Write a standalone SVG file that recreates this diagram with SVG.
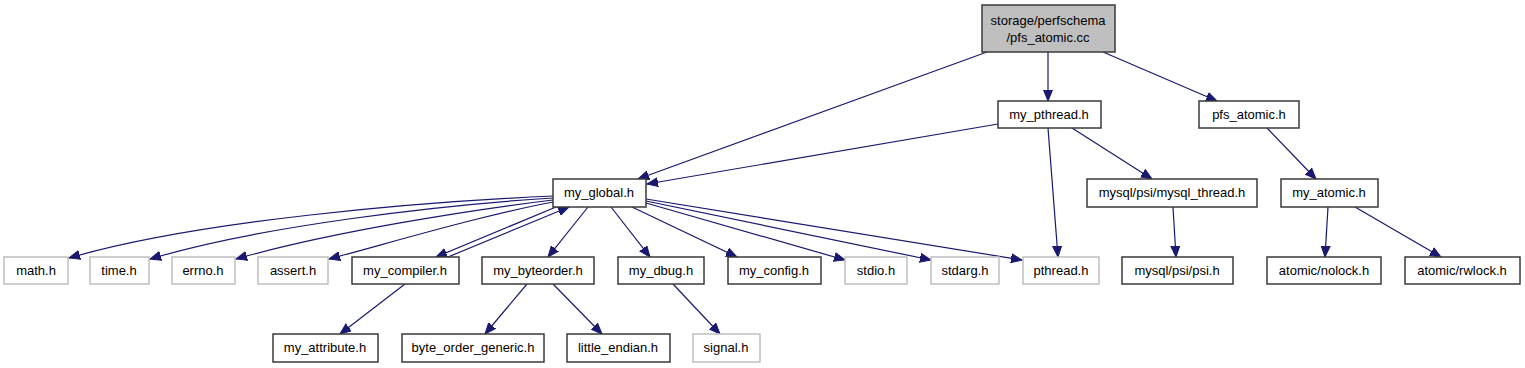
<svg xmlns="http://www.w3.org/2000/svg" width="1525" height="368" viewBox="0 0 1525 368">
<style>
.n rect{fill:#fff;stroke:#3a3a3a;stroke-width:1.5}
.u rect{fill:#fff;stroke:#bfbfbf;stroke-width:1.5}
.r rect{fill:#bfbfbf;stroke:#3a3a3a;stroke-width:1.5}
text{font-family:"Liberation Sans",Arial,sans-serif;font-size:13px;fill:#000;text-anchor:middle}
#edges path{fill:none;stroke:#191970;stroke-width:1.2;marker-end:url(#ah)}
</style>
<defs>
<marker id="ah" markerUnits="userSpaceOnUse" markerWidth="12" markerHeight="10" refX="11" refY="5" orient="auto" viewBox="0 0 12 10">
<path d="M0,0.5 L11,5 L0,9.5 Z" fill="#191970" stroke="#191970" stroke-width="1"/>
</marker>
</defs>
<rect width="1525" height="368" fill="#fff"/>
<g id="edges">
<path d="M987,52 L638,179"/>
<path d="M1048,52 L1048,101"/>
<path d="M1103,52 L1217,101"/>
<path d="M998,124 L647,184"/>
<path d="M1048,128 L1058,257"/>
<path d="M1072,128 L1152,179"/>
<path d="M1267,128 L1316,179"/>
<path d="M1328,207 L1325,257"/>
<path d="M1355,207 L1441,257"/>
<path d="M1173,207 L1176,257"/>
<path d="M553,196 C420,202 200,220 69,258"/>
<path d="M553,198 C440,205 260,226 150,259"/>
<path d="M553,200 C470,210 330,232 236,259"/>
<path d="M553,202 C480,216 400,240 329,259"/>
<path d="M556,207 L436,257"/>
<path d="M448,257 L569,207"/>
<path d="M588,207 L548,257"/>
<path d="M611,207 L650,257"/>
<path d="M632,207 L737,257"/>
<path d="M646,203 L845,260"/>
<path d="M646,201 L931,260"/>
<path d="M646,199 L1022,260"/>
<path d="M405,284 L340,334"/>
<path d="M527,284 L485,334"/>
<path d="M553,284 L602,334"/>
<path d="M673,284 L720,334"/>
</g>
<g id="root" class="r"><rect x="982" y="5" width="133" height="47"/><text x="1048" y="25">storage/perfschema</text><text x="1048" y="42">/pfs_atomic.cc</text></g>
<g id="my_pthread" class="n"><rect x="998" y="101" width="103" height="27"/><text x="1049" y="119">my_pthread.h</text></g>
<g id="pfs_atomic" class="n"><rect x="1199" y="101" width="100" height="27"/><text x="1249" y="119">pfs_atomic.h</text></g>
<g id="my_global" class="n"><rect x="553" y="179" width="93" height="28"/><text x="599" y="197">my_global.h</text></g>
<g id="mysql_thread" class="n"><rect x="1087" y="179" width="170" height="28"/><text x="1172" y="197">mysql/psi/mysql_thread.h</text></g>
<g id="my_atomic" class="n"><rect x="1281" y="179" width="97" height="28"/><text x="1329" y="197">my_atomic.h</text></g>
<g id="math" class="u"><rect x="4" y="257" width="64" height="27"/><text x="36" y="275">math.h</text></g>
<g id="time" class="u"><rect x="90" y="257" width="59" height="27"/><text x="119" y="275">time.h</text></g>
<g id="errno" class="u"><rect x="172" y="257" width="63" height="27"/><text x="203" y="275">errno.h</text></g>
<g id="assert" class="u"><rect x="258" y="257" width="70" height="27"/><text x="293" y="275">assert.h</text></g>
<g id="my_compiler" class="n"><rect x="352" y="257" width="107" height="27"/><text x="405" y="275">my_compiler.h</text></g>
<g id="my_byteorder" class="n"><rect x="482" y="257" width="112" height="27"/><text x="538" y="275">my_byteorder.h</text></g>
<g id="my_dbug" class="n"><rect x="618" y="257" width="86" height="27"/><text x="661" y="275">my_dbug.h</text></g>
<g id="my_config" class="n"><rect x="728" y="257" width="93" height="27"/><text x="774" y="275">my_config.h</text></g>
<g id="stdio" class="u"><rect x="845" y="257" width="62" height="27"/><text x="876" y="275">stdio.h</text></g>
<g id="stdarg" class="u"><rect x="931" y="257" width="68" height="27"/><text x="965" y="275">stdarg.h</text></g>
<g id="pthread" class="u"><rect x="1023" y="257" width="76" height="27"/><text x="1061" y="275">pthread.h</text></g>
<g id="psi" class="n"><rect x="1122" y="257" width="111" height="27"/><text x="1177" y="275">mysql/psi/psi.h</text></g>
<g id="nolock" class="n"><rect x="1267" y="257" width="114" height="27"/><text x="1324" y="275">atomic/nolock.h</text></g>
<g id="rwlock" class="n"><rect x="1405" y="257" width="115" height="27"/><text x="1462" y="275">atomic/rwlock.h</text></g>
<g id="my_attribute" class="n"><rect x="273" y="334" width="105" height="28"/><text x="325" y="352">my_attribute.h</text></g>
<g id="byte_order_generic" class="n"><rect x="402" y="334" width="142" height="28"/><text x="473" y="352">byte_order_generic.h</text></g>
<g id="little_endian" class="n"><rect x="567" y="334" width="103" height="28"/><text x="618" y="352">little_endian.h</text></g>
<g id="signal" class="u"><rect x="693" y="334" width="67" height="28"/><text x="726" y="352">signal.h</text></g>
</svg>
